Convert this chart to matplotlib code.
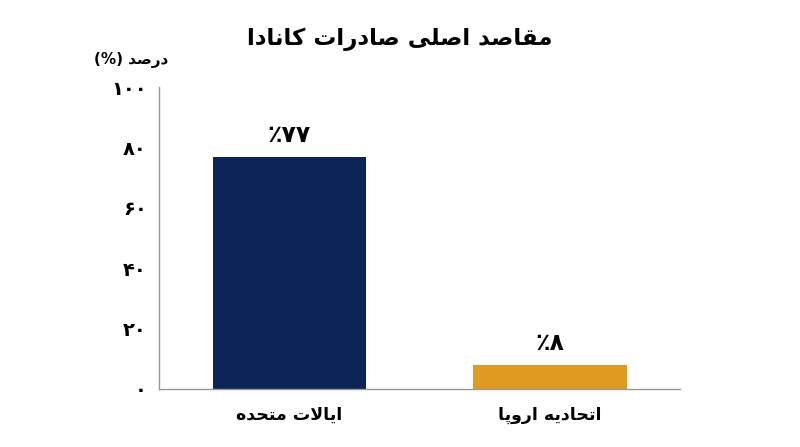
import matplotlib
matplotlib.use("Agg")
import matplotlib.pyplot as plt

# ---- data ----
title = "مقاصد اصلی صادرات کانادا"
ylabel = "درصد (%)"
categories = ["ایالات متحده", "اتحادیه اروپا"]
values = [77, 8]
value_labels = ["۷۷٪", "۸٪"]
yticks = [0, 20, 40, 60, 80, 100]
ytick_labels = ["۰", "۲۰", "۴۰", "۶۰", "۸۰", "۱۰۰"]
colors = ["#0c2457", "#e09a22"]

# ---- minimal Persian shaping (matplotlib has no text shaping) ----
FORMS = {  # iso, fin, ini, med
    "\u0627": ("\uFE8D", "\uFE8E", None, None),
    "\u0628": ("\uFE8F", "\uFE90", "\uFE91", "\uFE92"),
    "\u062A": ("\uFE95", "\uFE96", "\uFE97", "\uFE98"),
    "\u062D": ("\uFEA1", "\uFEA2", "\uFEA3", "\uFEA4"),
    "\u062F": ("\uFEA9", "\uFEAA", None, None),
    "\u0631": ("\uFEAD", "\uFEAE", None, None),
    "\u0635": ("\uFEB9", "\uFEBA", "\uFEBB", "\uFEBC"),
    "\u0642": ("\uFED5", "\uFED6", "\uFED7", "\uFED8"),
    "\u06A9": ("\uFB8E", "\uFB8F", "\uFB90", "\uFB91"),
    "\u0644": ("\uFEDD", "\uFEDE", "\uFEDF", "\uFEE0"),
    "\u0645": ("\uFEE1", "\uFEE2", "\uFEE3", "\uFEE4"),
    "\u0646": ("\uFEE5", "\uFEE6", "\uFEE7", "\uFEE8"),
    "\u0647": ("\uFEE9", "\uFEEA", "\uFEEB", "\uFEEC"),
    "\u0648": ("\uFEED", "\uFEEE", None, None),
    "\u06CC": ("\uFBFC", "\uFBFD", "\uFBFE", "\uFBFF"),
    "\u067E": ("\uFB56", "\uFB57", "\uFB58", "\uFB59"),
}
MIRROR = {"(": ")", ")": "("}
DIGITS = set("0123456789۰۱۲۳۴۵۶۷۸۹")


def dual(c):
    return c in FORMS and FORMS[c][2] is not None


def shape(s):
    out = []
    i = 0
    n = len(s)
    while i < n:
        c = s[i]
        if c not in FORMS:
            out.append(c)
            i += 1
            continue
        prev = s[i - 1] if i > 0 else ""
        cp = dual(prev)
        if c == "\u0644" and i + 1 < n and s[i + 1] == "\u0627":
            out.append("\uFEFC" if cp else "\uFEFB")
            i += 2
            continue
        nxt = s[i + 1] if i + 1 < n else ""
        cn = dual(c) and nxt in FORMS
        iso, fin, ini, med = FORMS[c]
        if cp and cn:
            out.append(med)
        elif cp:
            out.append(fin)
        elif cn:
            out.append(ini)
        else:
            out.append(iso)
        i += 1
    return out


def fa(s):
    chars = shape(s)
    tokens = []
    for c in chars:
        if c in DIGITS and tokens and tokens[-1][0] in DIGITS:
            tokens[-1] += c
        else:
            tokens.append(c)
    tokens.reverse()
    return "".join(MIRROR.get(t, t) for t in tokens)


plt.rcParams["font.family"] = ["DejaVu Sans"]

fig = plt.figure(figsize=(8, 4.47), dpi=100)
ax = fig.add_axes([0.199, 0.13, 0.651, 0.675])

x = list(range(len(categories)))
bars = ax.bar(x, values, width=0.59, color=colors)
ax.set_xlim(-0.5, 1.5)
ax.set_ylim(0, 100)

ax.set_yticks(yticks)
ax.set_yticklabels([fa(t) for t in ytick_labels], fontsize=14, fontweight="bold")
ax.set_xticks(x)
ax.set_xticklabels([fa(c) for c in categories], fontsize=12.5, fontweight="bold")
ax.tick_params(axis="both", length=0)
ax.tick_params(axis="y", pad=9)
ax.tick_params(axis="x", pad=12)

for sp in ["top", "right"]:
    ax.spines[sp].set_visible(False)
for sp in ["left", "bottom"]:
    ax.spines[sp].set_color("#999999")
    ax.spines[sp].set_linewidth(1.0)

for xi, v, lab in zip(x, values, value_labels):
    ax.annotate(fa(lab), (xi, v), xytext=(0, 7), textcoords="offset points",
                ha="center", va="bottom", fontsize=17, fontweight="bold")

fig.text(0.5, 0.912, fa(title), ha="center", va="center",
         fontsize=16.5, fontweight="bold")
fig.text(0.21, 0.865, fa(ylabel), ha="right", va="center",
         fontsize=11, fontweight="bold")

fig.savefig("out.png", dpi=100, facecolor="white")
